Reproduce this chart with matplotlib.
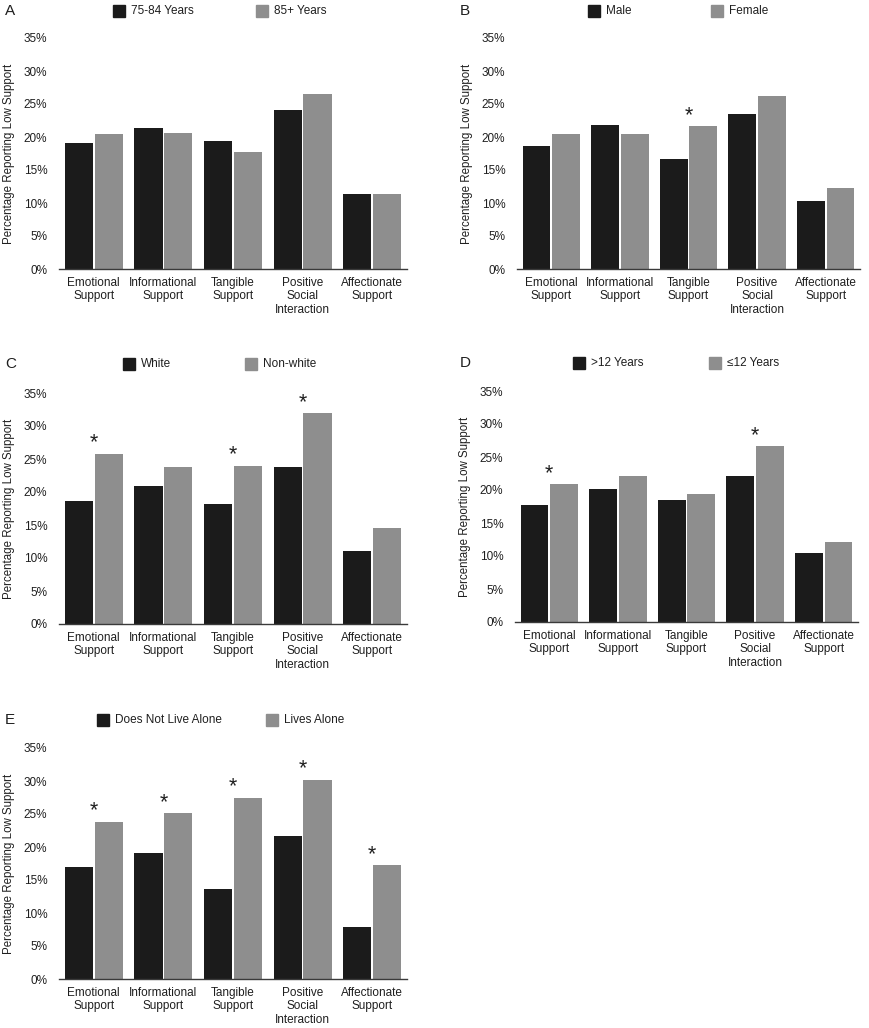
import matplotlib
matplotlib.use("Agg")
import matplotlib.pyplot as plt
from matplotlib.patches import Rectangle

plt.rcParams['font.family'] = ['Liberation Sans', 'DejaVu Sans']

categories = ["Emotional\nSupport", "Informational\nSupport", "Tangible\nSupport",
              "Positive\nSocial\nInteraction", "Affectionate\nSupport"]
yticks = [0, 5, 10, 15, 20, 25, 30, 35]
ytick_labels = ["0%", "5%", "10%", "15%", "20%", "25%", "30%", "35%"]
ylabel = "Percentage Reporting Low Support"

# Panel A: age
a_names = ["75-84 Years", "85+ Years"]
a_first = [19.1, 21.4, 19.4, 24.1, 11.3]
a_second = [20.4, 20.6, 17.7, 26.5, 11.3]
a_stars = []

# Panel B: sex
b_names = ["Male", "Female"]
b_first = [18.6, 21.8, 16.7, 23.5, 10.3]
b_second = [20.4, 20.4, 21.6, 26.2, 12.3]
b_stars = [2]

# Panel C: race
c_names = ["White", "Non-white"]
c_first = [18.6, 20.9, 18.2, 23.8, 11.1]
c_second = [25.8, 23.8, 24.0, 31.9, 14.5]
c_stars = [0, 2, 3]

# Panel D: education
d_names = [">12 Years", "\u226412 Years"]
d_first = [17.8, 20.2, 18.5, 22.1, 10.4]
d_second = [20.9, 22.1, 19.4, 26.6, 12.1]
d_stars = [0, 3]

# Panel E: living arrangement
e_names = ["Does Not Live Alone", "Lives Alone"]
e_first = [17.0, 19.1, 13.7, 21.6, 7.9]
e_second = [23.8, 25.1, 27.5, 30.2, 17.2]
e_stars = [0, 1, 2, 3, 4]

W, H = 870, 1028
DARK = "#1b1b1b"
GRAY = "#8e8e8e"
TXT = "#1f1f1f"
FS = 8.5

fig = plt.figure(figsize=(W / 100, H / 100), dpi=100)


def panel(letter, names, first, second, stars, box, letter_xy, leg1, leg2):
    x0, x1, ytop, ybot = box
    ax = fig.add_axes([x0 / W, 1 - ybot / H, (x1 - x0) / W, (ybot - ytop) / H])
    xs = list(range(len(categories)))
    ax.bar([x - 0.215 for x in xs], first, width=0.405, color=DARK, zorder=2)
    ax.bar([x + 0.215 for x in xs], second, width=0.405, color=GRAY, zorder=2)
    for i in stars:
        ax.text(i, second[i] + 0.8, "*", ha="center", va="baseline",
                fontsize=15.5, color=TXT)
    ax.set_xlim(-0.5, len(categories) - 0.5)
    ax.set_ylim(0, 35)
    ax.set_yticks(yticks)
    ax.set_yticklabels(ytick_labels, fontsize=FS, color=TXT)
    ax.set_xticks(xs)
    ax.set_xticklabels(categories, fontsize=FS, color=TXT, linespacing=1.2)
    ax.tick_params(axis="both", length=0)
    ax.tick_params(axis="y", pad=8.5)
    ax.tick_params(axis="x", pad=5.5)
    for s in ["top", "right", "left"]:
        ax.spines[s].set_visible(False)
    ax.spines["bottom"].set_color("#3a3a3a")
    ax.spines["bottom"].set_linewidth(1.0)
    ax.spines["bottom"].set_zorder(3)
    ax.set_ylabel(ylabel, fontsize=8.3, color=TXT)
    ax.yaxis.set_label_coords(-44 / (x1 - x0), 0.5)

    # panel letter
    lx, ly = letter_xy
    fig.text(lx / W, 1 - ly / H, letter, fontsize=11, color=TXT,
             ha="left", va="center")
    # legend entries
    for (sx, sy), name, col in [(leg1, names[0], DARK), (leg2, names[1], GRAY)]:
        sz = 12
        fig.patches.append(Rectangle((sx / W, 1 - (sy + sz / 2) / H), sz / W, sz / H,
                                     transform=fig.transFigure, color=col))
        fig.text((sx + sz + 6) / W, 1 - sy / H, name, fontsize=FS, color=TXT,
                 ha="left", va="center")
    return ax


panel("A", a_names, a_first, a_second, a_stars, (59, 407, 38, 269), (5, 11), (113, 11), (256, 11))
panel("B", b_names, b_first, b_second, b_stars, (517, 860, 38, 269), (460, 11), (588, 11), (711, 11))
panel("C", c_names, c_first, c_second, c_stars, (59, 407, 393, 624), (5, 364), (123, 364), (245, 364))
panel("D", d_names, d_first, d_second, d_stars, (515, 858, 391, 622), (460, 363), (573, 363), (709, 363))
panel("E", e_names, e_first, e_second, e_stars, (59, 407, 748, 979), (5, 720), (97, 720), (266, 720))

fig.savefig("out.png", dpi=100)
